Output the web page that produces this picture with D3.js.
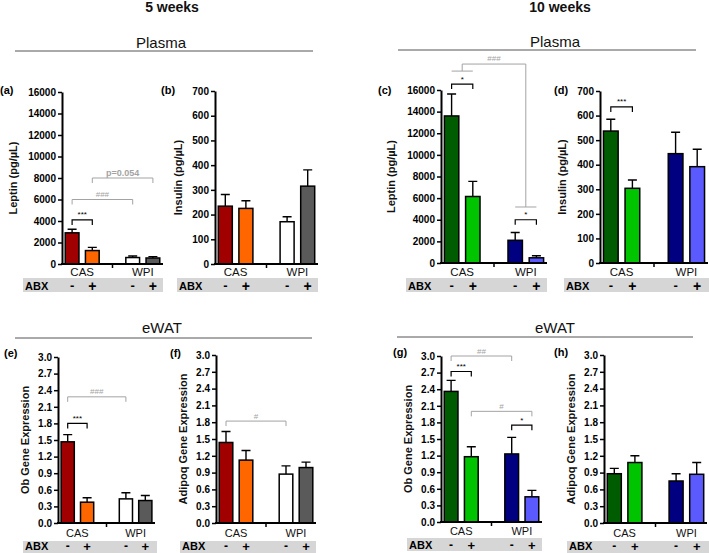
<!DOCTYPE html>
<html><head><meta charset="utf-8">
<script src="https://cdn.jsdelivr.net/npm/d3@7"></script>
<style>body{margin:0;background:#fff} svg{display:block;font-family:"Liberation Sans",Arial,sans-serif}</style>
</head><body><svg id="c" width="709" height="553"></svg>
<script>
// ---------- data ----------
const groups = ["CAS", "WPI"];
const abxSigns = ["-", "+", "-", "+"];
const slots = ["CAS-", "CAS+", "gap", "WPI-", "WPI+"];
const barKeys = ["CAS-", "CAS+", "WPI-", "WPI+"];

const leptin5 = [2900, 1250, 600, 560];
const leptin5Err = [330, 300, 150, 130];
const insulin5 = [234, 225, 171, 315];
const insulin5Err = [47, 31, 20, 66];
const leptin10 = [13600, 6150, 2100, 480];
const leptin10Err = [2030, 1400, 720, 190];
const insulin10 = [537, 304, 445, 392];
const insulin10Err = [48, 34, 87, 71];
const ob5 = [1.467, 0.376, 0.436, 0.406];
const ob5Err = [0.13, 0.08, 0.11, 0.09];
const adipoq5 = [1.438, 1.123, 0.873, 0.99];
const adipoq5Err = [0.196, 0.172, 0.147, 0.097];
const ob10 = [2.36, 1.18, 1.23, 0.455];
const ob10Err = [0.20, 0.18, 0.30, 0.116];
const adipoq10 = [0.88, 1.08, 0.75, 0.87];
const adipoq10Err = [0.095, 0.12, 0.13, 0.21];

const leptinTicks = [0, 2000, 4000, 6000, 8000, 10000, 12000, 14000, 16000];
const insulinTicks = [0, 100, 200, 300, 400, 500, 600, 700];
const geneTicks = [0, 0.3, 0.6, 0.9, 1.2, 1.5, 1.8, 2.1, 2.4, 2.7, 3.0];

const colors5 = ["#a00000", "#ff6600", "#ffffff", "#5a5a5a"];
const colors10 = ["#005c00", "#00c400", "#000080", "#5a5aff"];

// significance annotations: bar index pairs and level (in axis units)
const annA = [
  {from: 0, to: 1, level: 4100, text: "***", gray: false},
  {from: 0, to: 2, level: 6000, text: "###", gray: true},
  {from: 1, to: 3, level: 8000, text: "p=0.054", gray: true}
];
const annB = [];
const annC = [
  {from: 0, to: 1, level: 16550, text: "*", gray: false},
  {from: 2, to: 3, level: 4000, text: "*", gray: false},
  {link: true, lowA: 17750, top: 18400, lowB: 5180, text: "###", gray: true}
];
const annD = [{from: 0, to: 1, level: 635, text: "***", gray: false}];
const annE = [
  {from: 0, to: 1, level: 1.80, text: "***", gray: false},
  {from: 0, to: 2, level: 2.28, text: "###", gray: true}
];
const annF = [{from: 0, to: 2, level: 1.82, text: "#", gray: true}];
const annG = [
  {from: 0, to: 2, level: 3.0, text: "##", gray: true},
  {from: 0, to: 1, level: 2.72, text: "***", gray: false},
  {from: 1, to: 3, level: 2.0, text: "#", gray: true},
  {from: 2, to: 3, level: 1.75, text: "*", gray: false}
];
const annH = [];

// ---------- layout ----------
const fmtInt = d3.format("d"), fmt1 = d3.format(".1f");
const topRow = {yTop: 91, yBot: 264, ly: 94, bandY: 278, bandH: 14, grpY: 276, abxY: 290, grpSize: 11.5, signSize: 13};
const botRow = {grpSize: 11, signSize: 12};
const panels = [
  {id: "(a)", vals: leptin5, errs: leptin5Err, colors: colors5, max: 16000, ticks: leptinTicks, fmt: fmtInt, title: "Leptin (pg/\u00b5L)", ax: 62, ex: 163, lx: 0, bandX0: 23, bandX1: 163, titleX: 13, ann: annA, ...topRow, yTop: 92},
  {id: "(b)", vals: insulin5, errs: insulin5Err, colors: colors5, max: 700, ticks: insulinTicks, fmt: fmtInt, title: "Insulin (pg/\u00b5L)", ax: 215, ex: 318, lx: 161, bandX0: 177, bandX1: 318, titleX: 178, ann: annB, ...topRow},
  {id: "(c)", vals: leptin10, errs: leptin10Err, colors: colors10, max: 16000, ticks: leptinTicks, fmt: fmtInt, title: "Leptin (pg/\u00b5L)", ax: 441, ex: 547, lx: 378, bandX0: 406, bandX1: 547, titleX: 391, ann: annC, ...topRow, yTop: 90, yBot: 263},
  {id: "(d)", vals: insulin10, errs: insulin10Err, colors: colors10, max: 700, ticks: insulinTicks, fmt: fmtInt, title: "Insulin (pg/\u00b5L)", ax: 600, ex: 708, lx: 554, bandX0: 564, bandX1: 709, titleX: 562, ann: annD, ...topRow, yBot: 263},
  {id: "(e)", vals: ob5, errs: ob5Err, colors: colors5, max: 3.0, ticks: geneTicks, fmt: fmt1, title: "Ob Gene Expression", ax: 58, ex: 155, lx: 4, ly: 357, yTop: 357, yBot: 523, bandX0: 23, bandX1: 157, bandY: 541, bandH: 12, grpY: 536.5, abxY: 550, titleX: 25, ann: annE, ...botRow},
  {id: "(f)", vals: adipoq5, errs: adipoq5Err, colors: colors5, max: 3.0, ticks: geneTicks, fmt: fmt1, title: "Adipoq Gene Expression", ax: 216, ex: 316, lx: 170, ly: 357, yTop: 355, yBot: 523, bandX0: 180, bandX1: 316, bandY: 541, bandH: 12, grpY: 536.5, abxY: 550, titleX: 183, ann: annF, ...botRow},
  {id: "(g)", vals: ob10, errs: ob10Err, colors: colors10, max: 3.0, ticks: geneTicks, fmt: fmt1, title: "Ob Gene Expression", ax: 441, ex: 542, lx: 393, ly: 356, yTop: 356, yBot: 522, bandX0: 407, bandX1: 542, bandY: 538, bandH: 13, grpY: 535, abxY: 549, titleX: 408, ann: annG, ...botRow},
  {id: "(h)", vals: adipoq10, errs: adipoq10Err, colors: colors10, max: 3.0, ticks: geneTicks, fmt: fmt1, title: "Adipoq Gene Expression", ax: 604, ex: 707, lx: 554, ly: 356, yTop: 355, yBot: 523, bandX0: 567, bandX1: 709, bandY: 541, bandH: 12, grpY: 536.5, abxY: 550, titleX: 571, ann: annH, ...botRow}
];

const svg = d3.select("#c");

// ---------- section headers ----------
const headers = [
  {t: "5 weeks", x: 172, y: 12, bold: true, size: 14},
  {t: "10 weeks", x: 560, y: 12, bold: true, size: 14},
  {t: "Plasma", x: 161, y: 48, size: 15, line: [15, 313, 51]},
  {t: "Plasma", x: 555, y: 47, size: 15, line: [398, 696, 50]},
  {t: "eWAT", x: 162, y: 333, size: 15, line: [15, 312, 338]},
  {t: "eWAT", x: 555, y: 333, size: 15, line: [397, 693, 337]}
];
headers.forEach(h => {
  svg.append("text").attr("x", h.x).attr("y", h.y).attr("text-anchor", "middle")
    .attr("font-size", h.size).attr("font-weight", h.bold ? "bold" : "normal").attr("fill", "#111").text(h.t);
  if (h.line) svg.append("line").attr("x1", h.line[0]).attr("x2", h.line[1]).attr("y1", h.line[2]).attr("y2", h.line[2])
    .attr("stroke", "#555").attr("stroke-width", 1);
});

// ---------- panels ----------
panels.forEach(p => {
  const g = svg.append("g");
  const x = d3.scaleBand().domain(slots).range([p.ax, p.ex]).padding(0);
  const y = d3.scaleLinear().domain([0, p.max]).range([p.yBot, p.yTop]);
  const bw = x.bandwidth() * 0.68;
  const cx = i => x(barKeys[i]) + x.bandwidth() / 2;

  // ABX band
  g.append("rect").attr("x", p.bandX0).attr("y", p.bandY).attr("width", p.bandX1 - p.bandX0).attr("height", p.bandH).attr("fill", "#d6d6d6");
  g.append("text").attr("x", p.bandX0 + 2).attr("y", p.abxY).attr("font-size", 11).attr("font-weight", "bold").text("ABX");
  g.selectAll(".sg").data(abxSigns).join("text").attr("class", "sg")
    .attr("x", (d, i) => cx(i)).attr("y", d => p.abxY + (d === "-" ? 0 : 0.5)).attr("text-anchor", "middle")
    .attr("font-size", d => d === "-" ? p.signSize : p.signSize + 1).attr("font-weight", "bold").text(d => d);

  // error bars (upper only)
  g.selectAll(".eb").data(p.vals).join("path").attr("class", "eb")
    .attr("d", (d, i) => {
      const c = cx(i), y0 = y(d), y1 = y(d + p.errs[i]);
      return `M${c},${y0}V${y1}M${c - 4.5},${y1}H${c + 4.5}`;
    })
    .attr("stroke", "#000").attr("stroke-width", 1.4).attr("fill", "none");

  // bars
  g.selectAll(".bar").data(p.vals).join("rect").attr("class", "bar")
    .attr("x", (d, i) => cx(i) - bw / 2).attr("width", bw)
    .attr("y", d => y(d)).attr("height", d => p.yBot - y(d))
    .attr("fill", (d, i) => p.colors[i]).attr("stroke", "#000").attr("stroke-width", 1.5);

  // y axis
  const ya = g.append("g").attr("transform", `translate(${p.ax},0)`)
    .call(d3.axisLeft(y).tickValues(p.ticks).tickFormat(p.fmt).tickSize(4).tickSizeOuter(0).tickPadding(2));
  ya.select(".domain").attr("stroke-width", 2).attr("stroke", "#000");
  ya.selectAll(".tick line").attr("stroke-width", 1.5).attr("stroke", "#000");
  ya.selectAll(".tick text").attr("font-size", 10).attr("font-weight", "bold").attr("fill", "#000")
    .attr("font-family", "'Liberation Sans',Arial,sans-serif");

  // x axis line + group separator
  g.append("line").attr("x1", p.ax - 1).attr("x2", p.ex).attr("y1", p.yBot).attr("y2", p.yBot).attr("stroke", "#000").attr("stroke-width", 2);
  const sepX = x("gap") + x.bandwidth() / 2;
  g.append("line").attr("x1", sepX).attr("x2", sepX).attr("y1", p.yBot).attr("y2", p.yBot + 4).attr("stroke", "#000").attr("stroke-width", 1.5);
  groups.forEach((gr, k) => {
    g.append("text").attr("x", (cx(2 * k) + cx(2 * k + 1)) / 2).attr("y", p.grpY).attr("text-anchor", "middle")
      .attr("font-size", p.grpSize).attr("fill", "#111").text(gr);
  });

  // y title
  g.append("text").attr("transform", `translate(${p.titleX},${(p.yTop + p.yBot) / 2}) rotate(-90)`)
    .attr("text-anchor", "middle").attr("dominant-baseline", "central")
    .attr("font-size", 11).attr("font-weight", "bold").attr("fill", "#111").text(p.title);

  // panel label
  g.append("text").attr("x", p.lx).attr("y", p.ly).attr("font-size", 11).attr("font-weight", "bold").text(p.id);

  // annotations
  p.ann.forEach(a => {
    const col = a.gray ? "#a3a3a3" : "#000";
    const sw = a.gray ? 1 : 1.2;
    if (a.link) {
      const m01 = (cx(0) + cx(1)) / 2, m23 = (cx(2) + cx(3)) / 2;
      g.append("path").attr("d",
        `M${cx(0)},${y(a.lowA)}H${cx(1)}M${m01},${y(a.lowA)}V${y(a.top)}H${m23}V${y(a.lowB)}M${cx(2)},${y(a.lowB)}H${cx(3)}`)
        .attr("stroke", col).attr("stroke-width", sw).attr("fill", "none");
      g.append("text").attr("x", (m01 + m23) / 2).attr("y", y(a.top) - 3).attr("text-anchor", "middle")
        .attr("font-size", 8).attr("fill", col).text(a.text);
    } else {
      const x1 = cx(a.from), x2 = cx(a.to), yy = y(a.level);
      g.append("path").attr("d", `M${x1},${yy + 5}V${yy}H${x2}V${yy + 5}`)
        .attr("stroke", col).attr("stroke-width", sw).attr("fill", "none");
      g.append("text").attr("x", (x1 + x2) / 2).attr("y", yy - 2.5).attr("text-anchor", "middle")
        .attr("font-size", a.text.startsWith("p") ? 9 : 8).attr("font-weight", a.text.startsWith("p") ? "bold" : "normal")
        .attr("fill", col).text(a.text);
    }
  });
});
</script>
</body></html>
